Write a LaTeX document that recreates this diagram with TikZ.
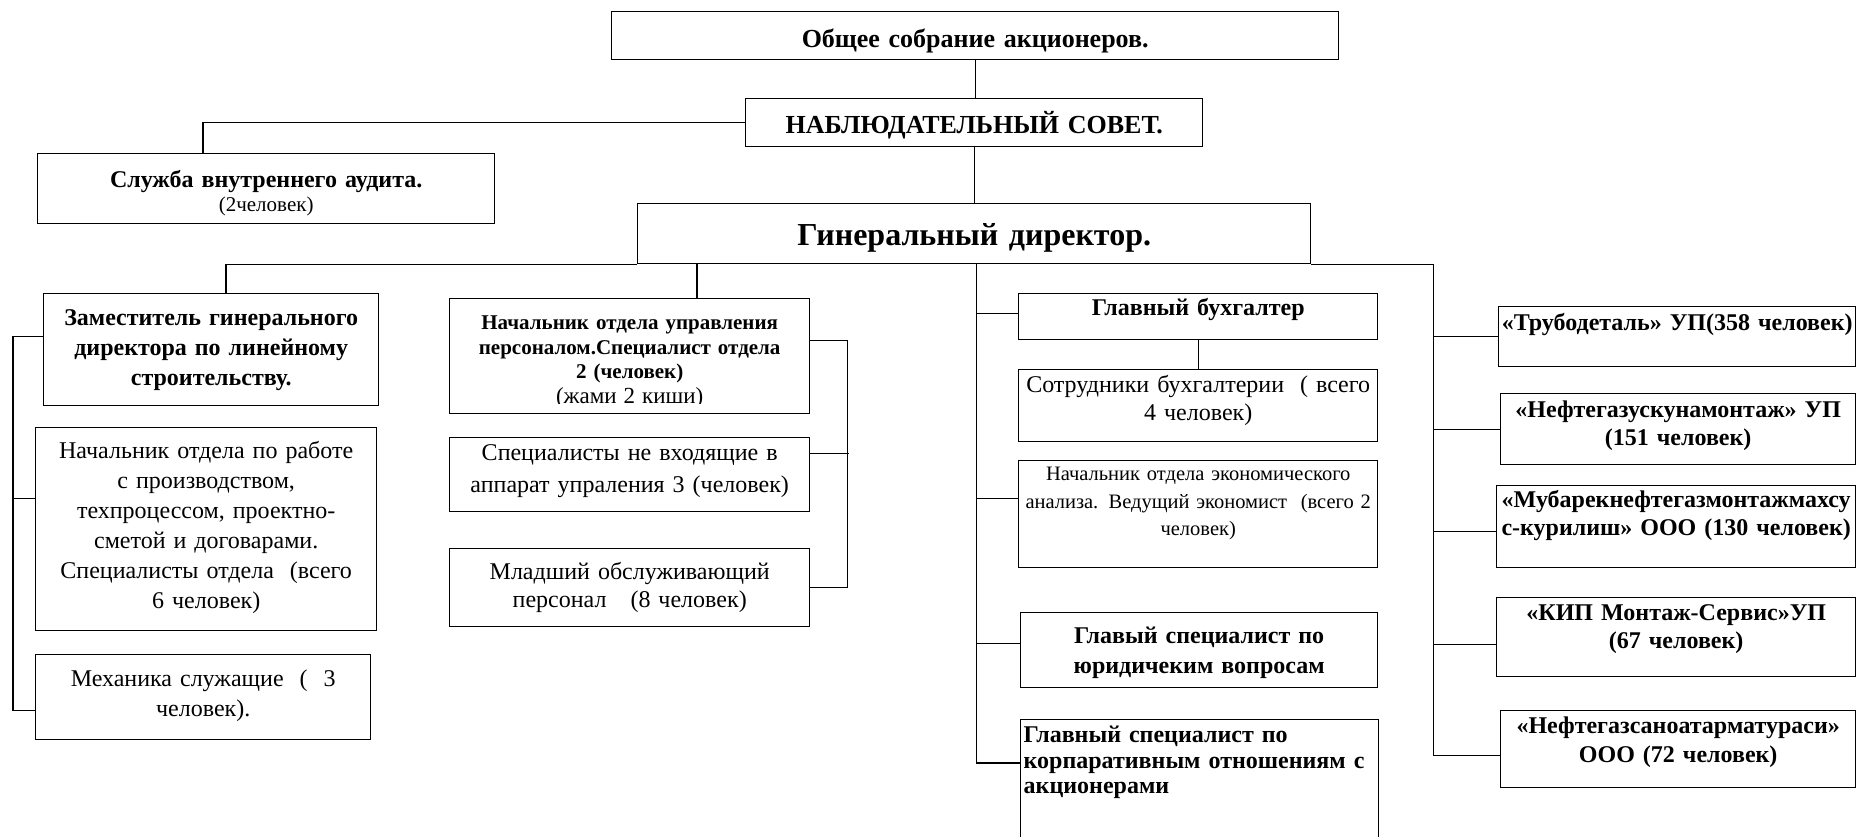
\documentclass[tikz,border=0pt]{standalone}
\usepackage{fontspec}
\setmainfont{Liberation Serif}
\usepackage{trimclip}
\usetikzlibrary{positioning}
\newcommand{\setfs}[2]{\fontsize{#1}{#2}\selectfont}
\tikzset{x=1pt, y=-1pt, % one unit is one pixel of the scan, y runs down
box/.style={draw, line width=1.4pt, inner xsep=3pt, inner ysep=0pt, anchor=north west, align=center}, % every frame
link/.style={line width=1.4pt}, % the connecting lines
}

\begin{document}
\begin{tikzpicture}
    \useasboundingbox (0,0) rectangle (1856,837);
    % top of the chart
    \node[box, font=\setfs{26}{30}\bfseries, text width=721pt, text height=36pt, text depth=12pt] (obshee) at (611,11) {Общее собрание акционеров.};
    \node[box, font=\setfs{26}{30}\bfseries, text width=451pt, text height=35pt, text depth=13pt] (sovet) at (745,98) {НАБЛЮДАТЕЛЬНЫЙ СОВЕТ.};
    \node[box, font=\setfs{24}{24}\bfseries, text width=451pt, text height=34pt, text depth=36pt] (service) at (37,153) {Служба внутреннего аудита.\\ \mdseries\setfs{21}{24}(2человек)};
    \node[box, font=\setfs{32}{36}\bfseries, text width=667pt, text height=42pt, text depth=18pt] (gendir) at (637,203) {Гинеральный директор.};
    % left column
    \node[box, font=\setfs{24}{30}\bfseries, text width=329pt, text height=32pt, text depth=80pt] (zam) at (43,293) {Заместитель гинерального\\ директора по линейному\\ строительству.};
    \node[box, font=\setfs{24}{30}, text width=335pt, text height=31pt, text depth=172pt] (prod) at (35,427) {Начальник отдела по работе\\ с производством,\\ техпроцессом, проектно-\\ сметой и договарами.\\ Специалисты отдела~ (всего\\ 6 человек)};
    \node[box, font=\setfs{24}{30}, text width=329pt, text height=32pt, text depth=53pt] (mech) at (35,654) {Механика служащие~ (~ 3\\ человек).};
    % second column
    \node[box, font=\setfs{21}{24.5}\bfseries, text width=354pt, text height=31pt, text depth=84pt] (kadry) at (449,298) {Начальник отдела управления\\ персоналом.Специалист отдела\\ 2 (человек)\\ \mdseries\setfs{23}{24.5}\clipbox{0pt 0.2em 0pt 0pt}{(жами 2 киши)}};
    \node[box, font=\setfs{24}{32}, text width=354pt, text height=23pt, text depth=51pt] (spec) at (449,437) {Специалисты не входящие в\\ аппарат упраления 3 (человек)};
    \node[box, font=\setfs{24}{28}, text width=354pt, text height=31pt, text depth=47pt] (junior) at (449,548) {Младший обслуживающий\\ персонал~~ (8 человек)};
    % third column
    \node[box, font=\setfs{24}{28}\bfseries, text width=353pt, text height=22pt, text depth=24pt] (glavbuh) at (1018,293) {Главный бухгалтер};
    \node[box, font=\setfs{24}{28}, text width=353pt, text height=23pt, text depth=49pt] (buhstaff) at (1018,369) {Сотрудники бухгалтерии~ ( всего\\ 4 человек)};
    \node[box, font=\setfs{20.5}{27.5}, text width=353pt, text height=20pt, text depth=87pt] (econ) at (1018,460) {Начальник отдела экономического\\ анализа. Ведущий экономист~ (всего 2\\ человек)};
    \node[box, font=\setfs{24}{30}\bfseries, text width=351pt, text height=31pt, text depth=44pt] (jurist) at (1020,612) {Главый специалист по\\ юридичеким вопросам};
    \node[box, font=\setfs{24}{25.5}\bfseries, text width=352pt, text height=23pt, text depth=110pt, align=left] (corp) at (1020,719) {Главный специалист по\\ корпаративным отношениям с\\ акционерами};
    % daughter companies
    \node[box, font=\setfs{24}{28}\bfseries, text width=351pt, text height=24pt, text depth=36pt] (trubo) at (1498,306) {«Трубодеталь» УП(358 человек)};
    \node[box, font=\setfs{24}{28}\bfseries, text width=349pt, text height=24pt, text depth=47pt] (neft1) at (1500,393) {«Нефтегазускунамонтаж» УП\\ (151 человек)};
    \node[box, font=\setfs{24}{28}\bfseries, text width=353pt, text height=22pt, text depth=60pt] (mub) at (1496,485) {«Мубарекнефтегазмонтажмахсу\\ с-курилиш» ООО (130 человек)};
    \node[box, font=\setfs{24}{28}\bfseries, text width=353pt, text height=23pt, text depth=56pt] (kip) at (1496,597) {«КИП Монтаж-Сервис»УП\\ (67 человек)};
    \node[box, font=\setfs{24}{28.5}\bfseries, text width=349pt, text height=23pt, text depth=54pt] (nsa) at (1500,710) {«Нефтегазсаноатарматураси»\\ ООО (72 человек)};

    % lines between the frames
    \coordinate (cbus) at ([xshift=2.5pt]gendir.south);
    \coordinate (rbus) at ([xshift=122pt]gendir.south east);
    \coordinate (kbus) at ([xshift=248pt]kadry.north west |- gendir.south);
    \coordinate (lbr) at ([xshift=-30pt,yshift=13pt]zam.west);
    \coordinate (kbr) at ([xshift=37pt,yshift=16pt]kadry.east);
    \draw[link] (obshee.south) -- (obshee.south |- sovet.north);
    \draw[link] (sovet.west) -| ([xshift=166pt]service.north west);
    \draw[link] (sovet.south) -- (sovet.south |- gendir.north);
    \draw[link] (gendir.south west) -| ([xshift=183pt]zam.north west);
    \draw[link] (kbus) -- (kbus |- kadry.north);
    \draw[link] ([yshift=13pt]zam.west) -- (lbr) |- ([yshift=-13pt]mech.west);
    \draw[link] ([yshift=31pt]prod.west) -- ++(-22,0);
    \draw[link] ([yshift=16pt]kadry.east) -- (kbr) |- (junior.east);
    \draw[link] ([yshift=21pt]spec.east) -- ++(39,0);
    \draw[link] (cbus) |- ([yshift=3pt]glavbuh.west);
    \draw[link] (cbus) |- ([yshift=16pt]econ.west);
    \draw[link] (cbus) |- ([yshift=7pt]jurist.west);
    \draw[link] (cbus) |- ([yshift=-44pt]corp.north west);
    \draw[link] (glavbuh.south) -- (buhstaff.north);
    \draw[link] (gendir.south east) -- (rbus) |- (trubo.west);
    \draw[link] (rbus) |- (neft1.west);
    \draw[link] (rbus) |- ([yshift=-5pt]mub.west);
    \draw[link] (rbus) |- ([yshift=-7pt]kip.west);
    \draw[link] (rbus) |- ([yshift=-6pt]nsa.west);
\end{tikzpicture}
\end{document}
